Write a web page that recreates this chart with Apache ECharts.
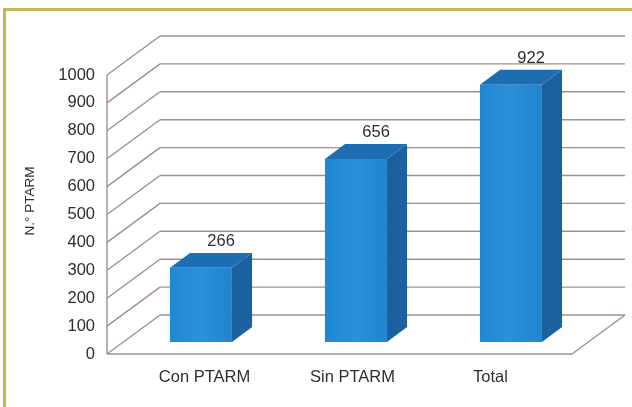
<!DOCTYPE html>
<html>
<head>
<meta charset="utf-8">
<style>
  html, body { margin: 0; padding: 0; background: #ffffff; }
  #chart { width: 632px; height: 407px; }
</style>
<script src="https://cdn.jsdelivr.net/npm/echarts@6.0.0/dist/echarts.min.js"></script>
</head>
<body>
<div id="chart"></div>
<script>
// ---- data ----
const categories = ['Con PTARM', 'Sin PTARM', 'Total'];
const values = [266, 656, 922];
const yTicks = [0, 100, 200, 300, 400, 500, 600, 700, 800, 900, 1000];
const yTitle = 'N.° PTARM';

// ---- style / geometry config ----
const DX = 53, DY = -39;          // full depth of the 3D box
const F1 = 0.31, F2 = 0.69;       // bar front/back depth fractions
const BAR_RATIO = 0.40;
const LABEL_DX = [20, 13, -4];    // category label nudges
const GRID_COLOR = '#a38f88';
const FONT = 'Liberation Sans, Arial, sans-serif';
const TEXT_COLOR = '#2e2e2e';

const chart = echarts.init(document.getElementById('chart'), null, { renderer: 'canvas' });

const lineStyle = { stroke: GRID_COLOR, lineWidth: 1.4 };

function renderWall(params, api) {
  const v = api.value(1);
  const cs = params.coordSys;
  const y = api.coord([0, v])[1];
  const x0 = cs.x, x1 = cs.x + cs.width;
  const children = [
    { type: 'line', shape: { x1: x0, y1: y, x2: x0 + DX, y2: y + DY }, style: lineStyle },
    { type: 'line', shape: { x1: x0 + DX, y1: y + DY, x2: x1 + DX, y2: y + DY }, style: lineStyle }
  ];
  if (v === yTicks[0]) {
    const yTop = api.coord([0, yTicks[yTicks.length - 1]])[1];
    children.push(
      { type: 'line', shape: { x1: x0, y1: y, x2: x1, y2: y }, style: lineStyle },
      { type: 'line', shape: { x1: x1, y1: y, x2: x1 + DX, y2: y + DY }, style: lineStyle },
      { type: 'line', shape: { x1: x0, y1: y, x2: x0, y2: yTop }, style: lineStyle }
    );
  }
  return { type: 'group', children };
}

function renderBar(params, api) {
  const i = api.value(0), v = api.value(1);
  const cs = params.coordSys;
  const base = api.coord([i, 0]);
  const top = api.coord([i, v]);
  const w = api.size([1, 0])[0] * BAR_RATIO;
  const ox = DX * F1, oy = DY * F1;
  const bx = DX * (F2 - F1), by = DY * (F2 - F1);
  const L = base[0] - w / 2 + ox, R = base[0] + w / 2 + ox;
  const B = base[1] + oy, T = top[1] + oy;
  return {
    type: 'group',
    children: [
      { type: 'polygon', shape: { points: [[R, T], [R + bx, T + by], [R + bx, B + by], [R, B]] },
        style: { fill: '#1b609f' } },
      { type: 'polygon', shape: { points: [[L, T], [L + bx, T + by], [R + bx, T + by], [R, T]] },
        style: { fill: '#1d6db3' } },
      { type: 'rect', shape: { x: L, y: T, width: R - L, height: B - T },
        style: { fill: new echarts.graphic.LinearGradient(0, 0, 1, 0, [
          { offset: 0, color: '#2088d3' }, { offset: 0.5, color: '#2a90d9' }, { offset: 1, color: '#2084cf' }
        ]) } },
      { type: 'text', x: (L + R) / 2 + bx, y: T + by - 3,
        style: { text: String(v), fill: TEXT_COLOR, font: '16.5px ' + FONT, align: 'center', verticalAlign: 'bottom' } },
      { type: 'text', x: base[0] + LABEL_DX[i], y: cs.y + cs.height + 23,
        style: { text: categories[i], fill: TEXT_COLOR, font: '16.5px ' + FONT, align: 'center', verticalAlign: 'middle' } }
    ]
  };
}

const option = {
  backgroundColor: '#ffffff',
  animation: false,
  grid: { left: 107, right: 60, top: 75, bottom: 53 },
  xAxis: {
    type: 'category',
    data: categories,
    axisLine: { show: false }, axisTick: { show: false }, axisLabel: { show: false },
    splitLine: { show: false }
  },
  yAxis: {
    type: 'value',
    min: yTicks[0], max: yTicks[yTicks.length - 1], interval: yTicks[1] - yTicks[0],
    axisLine: { show: false }, axisTick: { show: false }, splitLine: { show: false },
    axisLabel: { color: TEXT_COLOR, fontSize: 16.5, fontFamily: FONT, margin: 12,
      formatter: v => String(v) }
  },
  graphic: [
    { type: 'rect', shape: { x: 3, y: 8, width: 3, height: 400 }, style: { fill: '#c3b75b' }, silent: true },
    { type: 'rect', shape: { x: 3, y: 8, width: 630, height: 3 }, style: { fill: '#c3b75b' }, silent: true },
    { type: 'text', x: 30, y: 201, rotation: Math.PI / 2,
      style: { text: yTitle, fill: TEXT_COLOR, font: '13.5px ' + FONT, align: 'center', verticalAlign: 'middle' } }
  ],
  series: [
    { type: 'custom', renderItem: renderWall, clip: false, silent: true,
      data: yTicks.map(v => [0, v]), encode: { x: 0, y: 1 }, z: 1 },
    { type: 'custom', renderItem: renderBar, clip: false,
      data: values.map((v, i) => [i, v]), encode: { x: 0, y: 1 }, z: 2 }
  ]
};
chart.setOption(option);
</script>
</body>
</html>
